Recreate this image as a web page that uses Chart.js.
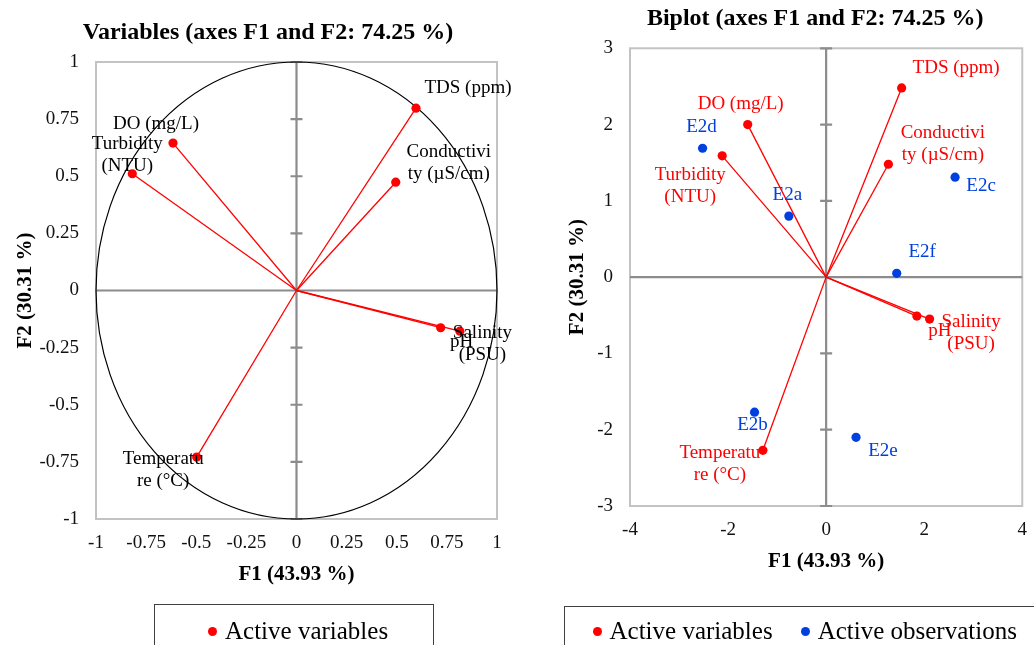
<!DOCTYPE html>
<html>
<head>
<meta charset="utf-8">
<script src="https://cdn.jsdelivr.net/npm/chart.js@4.4.1/dist/chart.umd.min.js"></script>
<style>
    body { margin: 0; width: 1034px; height: 645px; overflow: hidden; background: #fff; position: relative; font-family: "Liberation Serif", serif; }
    #variables { position: absolute; left: 0; top: 0; }
    #biplot { position: absolute; left: 520px; top: 0; }
    .legend { position: absolute; border: 1.5px solid #404040; height: 60px; font-size: 25px; line-height: 28px; color: #000; white-space: nowrap; box-sizing: border-box; }
    .legend .item { display: inline-flex; align-items: center; }
    .legend .dot { display: inline-block; width: 9px; height: 9px; border-radius: 50%; margin-right: 8px; }
</style>
</head>
<body>
<canvas id="variables" width="520" height="645"></canvas>
<canvas id="biplot" width="520" height="645"></canvas>
<div class="legend" style="left:154px; top:604px; width:280px; padding:8.5px 0 0 53px;">
    <span class="item"><span class="dot" style="background:#ff0000"></span>Active variables</span>
</div>
<div class="legend" style="left:564px; top:606px; width:490px; padding:6.8px 0 0 27.5px;">
    <span class="item" style="margin-right:28px"><span class="dot" style="background:#ff0000"></span>Active variables</span><span class="item"><span class="dot" style="background:#0040e0"></span>Active observations</span>
</div>
<script>
// variable names, wrapped the way the labels are wrapped in the picture
const variableLabels = [['TDS (ppm)'], ['DO (mg/L)'], ['Turbidity', '(NTU)'], ['Conductivi', 'ty (µS/cm)'], ['pH'], ['Salinity', '(PSU)'], ['Temperatu', 're (°C)']]
// correlation circle coordinates
const corrF1 = [0.596, -0.616, -0.819, 0.495, 0.719, 0.815, -0.498]
const corrF2 = [0.798, 0.645, 0.511, 0.474, -0.163, -0.178, -0.729]
// biplot coordinates of the variables
const biplotVarF1 = [1.54, -1.60, -2.12, 1.27, 1.85, 2.11, -1.29]
const biplotVarF2 = [2.48, 2.00, 1.59, 1.48, -0.51, -0.55, -2.27]
// observations
const observationNames = ['E2a', 'E2b', 'E2c', 'E2d', 'E2e', 'E2f']
const obsF1 = [-0.76, -1.46, 2.63, -2.52, 0.61, 1.44]
const obsF2 = [0.80, -1.77, 1.31, 1.69, -2.10, 0.05]

// label placement relative to its point (px)
const corrLabelOffsets = [[52, -20], [-17, -19], [-5, -19], [53, -19.5], [21, 14.5], [22.5, 13], [-33.5, 13]]
const biplotLabelOffsets = [[54.5, -20], [-7, -20.5], [-32, 30.5], [54.5, -20.5], [23, 14.5], [41.5, 14], [-43, 14]]
const obsLabelOffsets = [[-1.5, -21], [-2, 13], [26, 9], [-1, -21.5], [27, 13.5], [25.5, -21]]

const RED = '#ff0000'
const BLUE = '#0040e0'
const SERIF = '"Liberation Serif", "Times New Roman", serif'

// frame, zero axes with their tick marks, and the unit circle
const framePlugin = {
    id: 'frame',
    beforeDatasetsDraw(chart, args, opts) {
        const { ctx, chartArea: a, scales: { x, y } } = chart
        const x0 = x.getPixelForValue(0)
        const y0 = y.getPixelForValue(0)
        ctx.save()
        ctx.strokeStyle = '#c3c3c3'
        ctx.lineWidth = 2
        ctx.strokeRect(a.left, a.top, a.right - a.left, a.bottom - a.top)
        ctx.strokeStyle = '#8c8c8c'
        ctx.lineWidth = 2.2
        ctx.beginPath()
        ctx.moveTo(a.left, y0)
        ctx.lineTo(a.right, y0)
        ctx.moveTo(x0, a.top)
        ctx.lineTo(x0, a.bottom)
        y.ticks.forEach(t => {
            const py = y.getPixelForValue(t.value)
            ctx.moveTo(x0 - 6, py)
            ctx.lineTo(x0 + 6, py)
        })
        ctx.stroke()
        if (opts.circle) {
            ctx.strokeStyle = '#000'
            ctx.lineWidth = 1.2
            ctx.beginPath()
            ctx.ellipse(x0, y0, x.getPixelForValue(1) - x0, y0 - y.getPixelForValue(1), 0, 0, Math.PI * 2)
            ctx.stroke()
        }
        ctx.restore()
    }
}

// text labels next to points
const labelPlugin = {
    id: 'pointLabels',
    afterDatasetsDraw(chart) {
        const { ctx } = chart
        ctx.save()
        ctx.font = '19px ' + SERIF
        ctx.textAlign = 'center'
        ctx.textBaseline = 'middle'
        chart.data.datasets.forEach((ds, di) => {
            if (!ds.pointLabels) return
            const meta = chart.getDatasetMeta(di)
            ds.pointLabels.forEach(lbl => {
                const el = meta.data[lbl.index]
                ctx.fillStyle = lbl.color
                lbl.lines.forEach((line, li) => {
                    ctx.fillText(line, el.x + lbl.dx, el.y + lbl.dy + (li - (lbl.lines.length - 1) / 2) * 21.7)
                })
            })
        })
        ctx.restore()
    }
}

function vectorDatasets(f1, f2, offsets, textColor) {
    return f1.map((v, i) => ({
        data: [{ x: 0, y: 0 }, { x: v, y: f2[i] }],
        showLine: true,
        borderColor: RED,
        borderWidth: 1.3,
        pointRadius: [0, 4.6],
        pointBackgroundColor: RED,
        pointBorderWidth: 0,
        pointLabels: [{ index: 1, lines: variableLabels[i], dx: offsets[i][0], dy: offsets[i][1], color: textColor }]
    }))
}

function axisOptions(min, max, step, title, isX, fixedSize, titlePad) {
    return {
        type: 'linear',
        position: isX ? 'bottom' : 'left',
        min, max,
        grid: { display: false, drawTicks: false },
        border: { display: false },
        ticks: {
            stepSize: step,
            autoSkip: false,
            maxRotation: 0,
            padding: isX ? 13 : 17,
            color: '#111',
            font: { family: SERIF, size: 19 },
            callback: v => String(Math.round(v * 100) / 100)
        },
        title: {
            display: true,
            text: title,
            color: '#000',
            font: { family: SERIF, size: 21, weight: 'bold' },
            padding: titlePad
        },
        afterFit(scale) {
            if (isX) scale.height = fixedSize
            else scale.width = fixedSize
        }
    }
}

function baseOptions(title, titlePad, padding, scales, circle) {
    return {
        responsive: false,
        animation: false,
        devicePixelRatio: 1,
        events: [],
        layout: { padding },
        scales,
        plugins: {
            legend: { display: false },
            tooltip: { enabled: false },
            title: {
                display: true,
                text: title,
                color: '#000',
                font: { family: SERIF, size: 24, weight: 'bold' },
                padding: titlePad
            },
            frame: { circle }
        }
    }
}

new Chart(document.getElementById('variables'), {
    type: 'scatter',
    data: { datasets: vectorDatasets(corrF1, corrF2, corrLabelOffsets, '#000') },
    options: baseOptions(
        'Variables (axes F1 and F2: 74.25 %)',
        { top: 18, bottom: 15.2 },
        { left: 39, right: 23, top: 0, bottom: 57.4 },
        {
            x: axisOptions(-1, 1, 0.25, 'F1 (43.93 %)', true, 68.6, { top: 0, bottom: 0 }),
            y: axisOptions(-1, 1, 0.25, 'F2 (30.31 %)', false, 57, { top: -26, bottom: 0 })
        },
        true
    ),
    plugins: [framePlugin, labelPlugin]
})

new Chart(document.getElementById('biplot'), {
    type: 'scatter',
    data: {
        datasets: [
            ...vectorDatasets(biplotVarF1, biplotVarF2, biplotLabelOffsets, RED),
            {
                data: obsF1.map((v, i) => ({ x: v, y: obsF2[i] })),
                pointRadius: 4.6,
                pointBackgroundColor: BLUE,
                pointBorderWidth: 0,
                pointLabels: observationNames.map((name, i) => ({ index: i, lines: [name], dx: obsLabelOffsets[i][0], dy: obsLabelOffsets[i][1], color: BLUE }))
            }
        ]
    },
    options: baseOptions(
        'Biplot (axes F1 and F2: 74.25 %)',
        { top: 4.4, bottom: 15.1 },
        { left: 76, right: 5.5, top: 0, bottom: 70.7 },
        {
            x: axisOptions(-4, 4, 2, 'F1 (43.93 %)', true, 68.3, { top: 0, bottom: 0 }),
            y: axisOptions(-3, 3, 1, 'F2 (30.31 %)', false, 34, { top: -30.6, bottom: 0 })
        },
        false
    ),
    plugins: [framePlugin, labelPlugin]
})
</script>
</body>
</html>
